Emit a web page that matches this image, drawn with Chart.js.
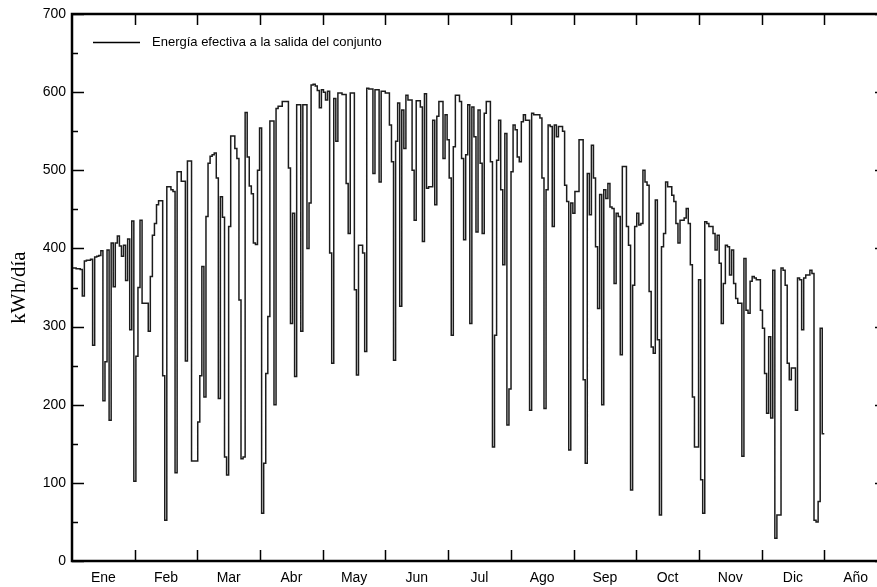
<!DOCTYPE html>
<html lang="es">
<head>
<meta charset="utf-8">
<title>Energía efectiva a la salida del conjunto</title>
<script src="https://cdn.jsdelivr.net/npm/chart.js@4/dist/chart.umd.min.js"></script>
<style>
  html, body { margin: 0; padding: 0; background: #fff; overflow: hidden; }
  #wrap { width: 877px; height: 587px; overflow: hidden; }
  canvas { display: block; }
</style>
</head>
<body>
<div id="wrap"><canvas id="chart" width="900" height="587"></canvas></div>
<script>
// Energía diaria (kWh/día), un valor por día
const ene = [375, 375, 374, 374, 373, 339, 384, 385, 385, 386, 276, 389, 390, 391, 397, 205, 255, 398, 180, 407, 351, 407, 416, 403, 390, 404, 359, 412, 296, 435, 102];
const feb = [262, 350, 436, 330, 330, 330, 294, 364, 417, 432, 456, 461, 461, 237, 52, 479, 479, 475, 473, 113, 498, 498, 486, 486, 256, 512, 512, 128];
const mar = [128, 128, 178, 237, 377, 210, 441, 509, 518, 520, 522, 490, 208, 466, 440, 133, 110, 428, 544, 544, 528, 515, 334, 131, 133, 574, 517, 480, 470, 407, 405];
const abr = [500, 554, 61, 125, 240, 313, 563, 563, 200, 579, 582, 582, 588, 588, 588, 503, 304, 445, 236, 584, 584, 294, 584, 584, 400, 458, 609, 610, 608, 602];
const may = [580, 603, 600, 590, 601, 394, 253, 592, 537, 599, 599, 597, 597, 483, 419, 599, 599, 347, 238, 404, 404, 394, 268, 605, 604, 604, 496, 603, 603, 485, 601];
const jun = [601, 599, 599, 558, 511, 257, 537, 586, 326, 577, 528, 596, 590, 590, 500, 436, 589, 589, 581, 409, 598, 477, 479, 479, 564, 456, 569, 588, 588, 515];
const jul = [571, 539, 490, 289, 530, 596, 596, 588, 515, 411, 520, 584, 304, 581, 543, 421, 577, 509, 419, 573, 588, 588, 511, 146, 289, 513, 564, 475, 379, 547, 174];
const ago = [220, 498, 558, 552, 517, 511, 562, 571, 564, 564, 193, 573, 571, 571, 571, 567, 490, 195, 475, 558, 556, 428, 558, 543, 556, 556, 550, 481, 460, 142, 458];
const sep = [445, 473, 473, 539, 539, 232, 125, 496, 443, 532, 490, 402, 323, 469, 200, 475, 464, 483, 453, 451, 355, 445, 441, 264, 505, 505, 428, 404, 91, 353];
const oct = [428, 445, 430, 432, 500, 485, 481, 345, 274, 266, 462, 283, 59, 402, 419, 485, 479, 479, 468, 460, 432, 407, 436, 436, 439, 451, 432, 379, 210, 146, 146];
const nov = [360, 104, 61, 434, 432, 428, 428, 419, 398, 417, 381, 304, 355, 404, 402, 366, 398, 355, 336, 330, 330, 134, 387, 321, 317, 358, 364, 362, 360, 360];
const dic = [321, 298, 240, 189, 287, 183, 372, 29, 59, 59, 375, 372, 353, 253, 232, 247, 247, 193, 362, 360, 296, 362, 366, 366, 372, 368, 52, 50, 76, 298, 163];

const meses = ["Ene", "Feb", "Mar", "Abr", "May", "Jun", "Jul", "Ago", "Sep", "Oct", "Nov", "Dic", "Año"];
const yTicks = [0, 100, 200, 300, 400, 500, 600, 700];
const serieLabel = "Energía efectiva a la salida del conjunto";

const diario = [...ene, ...feb, ...mar, ...abr, ...may, ...jun, ...jul, ...ago, ...sep, ...oct, ...nov, ...dic];
// cada día es un escalón de x=d a x=d+1
const puntos = diario.map((v, d) => ({ x: d, y: v }));
puntos.push({ x: diario.length, y: diario[diario.length - 1] });

const mesLen = 365 / 12;
const sans = "'Liberation Sans', Arial, sans-serif";

// Marco, marcas hacia dentro, etiquetas y leyenda
const marcoPlugin = {
  id: "marco",
  afterDatasetsDraw(chart) {
    const { ctx, chartArea: a, scales } = chart;
    const xs = scales.x, ys = scales.y;
    ctx.save();
    ctx.strokeStyle = "#000";
    ctx.fillStyle = "#000";

    // marcas del eje Y (izquierda y derecha)
    ctx.lineWidth = 1.5;
    for (let v = 0; v <= 700; v += 50) {
      const y = Math.round(ys.getPixelForValue(v)) + 0.5;
      const len = v % 100 === 0 ? 12 : 6;
      ctx.beginPath();
      ctx.moveTo(a.left, y); ctx.lineTo(a.left + len, y);
      ctx.moveTo(a.right, y); ctx.lineTo(a.right - len, y);
      ctx.stroke();
    }
    // marcas de meses (abajo y arriba)
    for (let k = 1; k < meses.length; k++) {
      const x = Math.round(xs.getPixelForValue(k * mesLen)) + 0.5;
      ctx.beginPath();
      ctx.moveTo(x, a.bottom); ctx.lineTo(x, a.bottom - 11);
      ctx.moveTo(x, a.top); ctx.lineTo(x, a.top + 11);
      ctx.stroke();
    }

    // marco
    ctx.lineWidth = 2.5;
    ctx.strokeRect(a.left, a.top, a.right - a.left, a.bottom - a.top);

    // etiquetas Y
    ctx.font = "14px " + sans;
    ctx.textAlign = "right";
    ctx.textBaseline = "middle";
    yTicks.forEach((v) => {
      ctx.fillText(String(v), a.left - 6, ys.getPixelForValue(v));
    });

    // etiquetas de meses
    ctx.textAlign = "center";
    meses.forEach((m, k) => {
      ctx.fillText(m, xs.getPixelForValue((k + 0.5) * mesLen), a.bottom + 17);
    });

    // título del eje Y
    ctx.save();
    ctx.translate(19, (a.top + a.bottom) / 2);
    ctx.rotate(-Math.PI / 2);
    ctx.font = "21px 'Liberation Serif', 'Times New Roman', serif";
    ctx.textAlign = "center";
    ctx.textBaseline = "middle";
    ctx.fillText("kWh/día", 0, 0);
    ctx.restore();

    // leyenda
    ctx.lineWidth = 1.5;
    ctx.beginPath();
    ctx.moveTo(a.left + 21, a.top + 28.5);
    ctx.lineTo(a.left + 68, a.top + 28.5);
    ctx.stroke();
    ctx.font = "13px " + sans;
    ctx.textAlign = "left";
    ctx.textBaseline = "middle";
    ctx.fillText(serieLabel, a.left + 80, a.top + 28);

    ctx.restore();
  },
};

new Chart(document.getElementById("chart"), {
  type: "line",
  data: {
    datasets: [
      {
        label: serieLabel,
        data: puntos,
        stepped: true,
        borderColor: "#1c1c1c",
        borderWidth: 1.5,
        pointRadius: 0,
        fill: false,
      },
    ],
  },
  options: {
    responsive: false,
    animation: false,
    events: [],
    layout: { padding: { left: 72, right: 13, top: 14, bottom: 26 } },
    scales: {
      x: { type: "linear", min: 0, max: 13 * mesLen, display: false },
      y: { min: 0, max: 700, display: false },
    },
    plugins: {
      legend: { display: false },
      tooltip: { enabled: false },
    },
  },
  plugins: [marcoPlugin],
});
</script>
</body>
</html>
